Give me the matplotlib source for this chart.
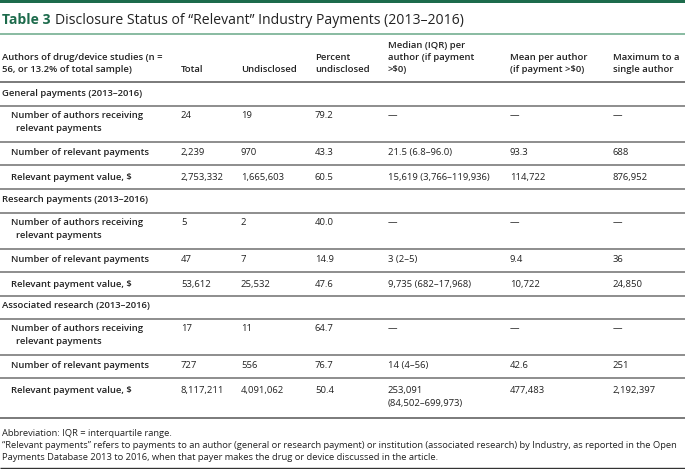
import matplotlib
matplotlib.use("Agg")
import matplotlib.pyplot as plt

plt.rcParams['font.family'] = ['Open Sans', 'DejaVu Sans']

title_bold = "Table 3"
title_rest = "Disclosure Status of \u201cRelevant\u201d Industry Payments (2013\u20132016)"

headers = [
    "Authors of drug/device studies (n =\n56, or 13.2% of total sample)",
    "Total",
    "Undisclosed",
    "Percent\nundisclosed",
    "Median (IQR) per\nauthor (if payment\n>$0)",
    "Mean per author\n(if payment >$0)",
    "Maximum to a\nsingle author",
]

sections = [
    "General payments (2013\u20132016)",
    "Research payments (2013\u20132016)",
    "Associated research (2013\u20132016)",
]

row_labels = [
    "Number of authors receiving\n  relevant payments",
    "Number of relevant payments",
    "Relevant payment value, $",
]

total = [["24", "2,239", "2,753,332"],
         ["5", "47", "53,612"],
         ["17", "727", "8,117,211"]]
undisclosed = [["19", "970", "1,665,603"],
               ["2", "7", "25,532"],
               ["11", "556", "4,091,062"]]
percent = [["79.2", "43.3", "60.5"],
           ["40.0", "14.9", "47.6"],
           ["64.7", "76.7", "50.4"]]
median = [["\u2014", "21.5 (6.8\u201396.0)", "15,619 (3,766\u2013119,936)"],
          ["\u2014", "3 (2\u20135)", "9,735 (682\u201317,968)"],
          ["\u2014", "14 (4\u201356)", "253,091\n(84,502\u2013699,973)"]]
mean = [["\u2014", "93.3", "114,722"],
        ["\u2014", "9.4", "10,722"],
        ["\u2014", "42.6", "477,483"]]
maximum = [["\u2014", "688", "876,952"],
           ["\u2014", "36", "24,850"],
           ["\u2014", "251", "2,192,397"]]

footnotes = [
    "Abbreviation: IQR = interquartile range.",
    "\u201cRelevant payments\u201d refers to payments to an author (general or research payment) or institution (associated research) by Industry, as reported in the Open\nPayments Database 2013 to 2016, when that payer makes the drug or device discussed in the article.",
]

W, H = 685, 469
fig = plt.figure(figsize=(W / 100, H / 100), dpi=100)
ax = fig.add_axes([0, 0, 1, 1])
ax.set_xlim(0, W)
ax.set_ylim(H, 0)
ax.axis('off')

GREEN = "#1d6b4c"
TXT = "#222222"
LINE = "#6f6f6f"
FS = 6.8
BW = 600
LS = 1.55

# top bar and title
ax.add_patch(plt.Rectangle((0, 0), W, 3.2, color=GREEN, lw=0))
t1 = ax.text(2, 20, title_bold, fontsize=10.1, fontweight='bold', color=GREEN, va='center', ha='left')
fig.canvas.draw()
bb = t1.get_window_extent()
x_after = bb.x1 + 5
ax.text(x_after, 20, title_rest, fontsize=10.1, color=TXT, va='center', ha='left')
ax.plot([0, W], [34.5, 34.5], color="#7fb59a", lw=1.3)

colx = [2, 181, 241, 315, 388, 510, 613]

# header (bottom-aligned)
header_bottom = 73.5
for x, h in zip(colx, headers):
    ax.text(x, header_bottom, h, fontsize=FS, fontweight=BW, color=TXT,
            va='bottom', ha='left', linespacing=1.42)

def hline(y, color=LINE, lw=1.1):
    ax.plot([0, W], [y, y], color=color, lw=lw, solid_capstyle='butt')

hline(82, lw=1.3)

section_y = [93, 200, 306]
row_offsets = [24, 61, 86]
line_offsets = [13, 49, 72, 96]

cols_data = [total, undisclosed, percent, median, mean, maximum]

for s in range(3):
    y0 = section_y[s]
    ax.text(2, y0, sections[s], fontsize=FS, fontweight=BW, color=TXT, va='center', ha='left')
    n_lines = 4 if s < 2 else 3
    for lo in line_offsets[:n_lines]:
        hline(y0 + lo)
    for r in range(3):
        yr = y0 + row_offsets[r]
        ax.text(11, yr - 6, row_labels[r], fontsize=FS, fontweight=BW, color=TXT,
                va='top', ha='left', linespacing=LS)
        for ci, col in enumerate(cols_data):
            ax.text(colx[ci + 1], yr - 6, col[s][r], fontsize=FS, color=TXT,
                    va='top', ha='left', linespacing=LS)

hline(418, lw=1.3)

ax.text(2, 428.5, footnotes[0], fontsize=6.72, color=TXT, va='top', ha='left')
ax.text(2, 441.5, footnotes[1], fontsize=6.72, color=TXT, va='top', ha='left', linespacing=1.3)
hline(468, color="#333333", lw=1.0)

fig.savefig("out.png", dpi=100)
